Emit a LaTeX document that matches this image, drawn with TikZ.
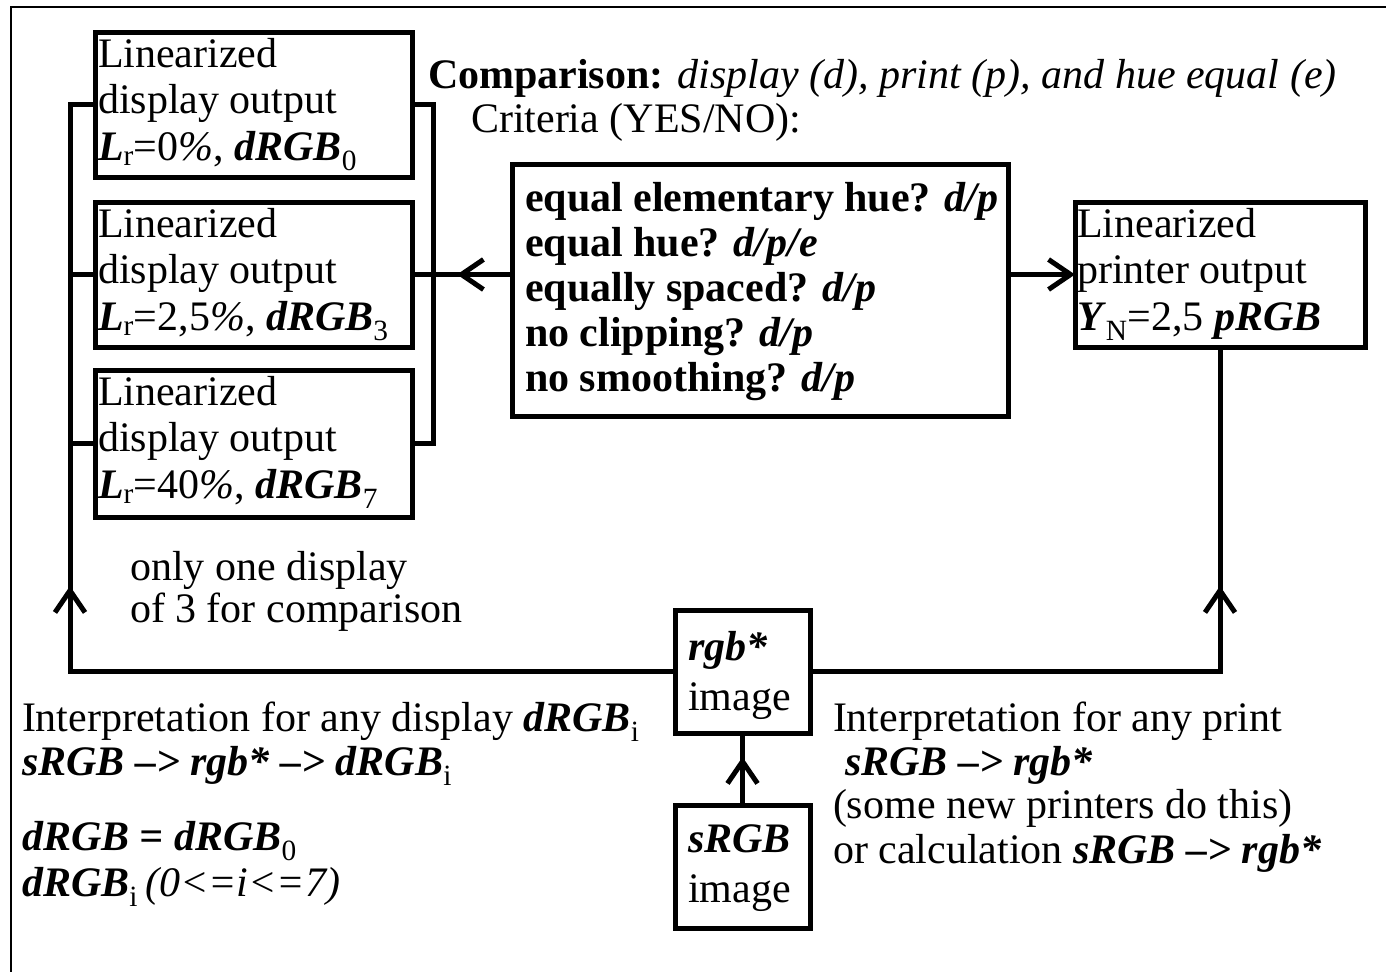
\documentclass[tikz,border=0pt]{standalone}
\usepackage{fontspec}
\setmainfont{Liberation Serif}
\usetikzlibrary{arrows.meta}
\newcommand\bfit[1]{\textbf{\textit{#1}}}
\newcommand\sbs[1]{\textsubscript{#1}}
\begin{document}
\begin{tikzpicture}[x=1pt,y=-1pt,
  box/.style={draw, line width=5pt, inner sep=0pt, outer sep=0pt, anchor=north west},
  txt/.style={inner sep=0pt, outer sep=0pt, anchor=base west, font=\fontsize{42}{46}\selectfont},
  wire/.style={line width=5pt},
  arr/.style={line width=5pt, -{Straight Barb[length=22pt,width=30pt]}},
  frame/.style={line width=2pt}]
\useasboundingbox (0,0) rectangle (1386,972);
% outer frame (only top and left visible)
\coordinate (F1) at (1386,7);
\coordinate (F2) at (11,7);
\coordinate (F3) at (11,972);
\draw[frame] (F1) -- (F2) -- (F3);

% display boxes
\node[box, minimum width=317pt, minimum height=145pt] (b1) at (95,32) {};
\node[box, minimum width=317pt, minimum height=145pt] (b2) at (95,202) {};
\node[box, minimum width=317pt, minimum height=147pt] (b3) at (95,370) {};
% criteria box
\node[box, minimum width=496pt, minimum height=252pt] (crit) at (512,164) {};
% printer box
\node[box, minimum width=290pt, minimum height=145pt] (pr) at (1075,202) {};
% rgb* and sRGB boxes
\node[box, minimum width=135pt, minimum height=123pt] (rgb) at (675,610) {};
\node[box, minimum width=135pt, minimum height=123pt] (srgb) at (675,805) {};

% texts in display boxes
\node[txt] (b1a) at (98,67) {Linearized};
\node[txt] (b1b) at (98,113) {display output};
\node[txt] (b1c) at (98,160) {\bfit{L}\sbs{r}=0\textit{\%}, \bfit{dRGB}\sbs{0}};
\node[txt] (b2a) at (98,237) {Linearized};
\node[txt] (b2b) at (98,283) {display output};
\node[txt] (b2c) at (98,330) {\bfit{L}\sbs{r}=2,5\textit{\%}, \bfit{dRGB}\sbs{3}};
\node[txt] (b3a) at (98,405) {Linearized};
\node[txt] (b3b) at (98,451) {display output};
\node[txt] (b3c) at (98,498) {\bfit{L}\sbs{r}=40\textit{\%}, \bfit{dRGB}\sbs{7}};

% comparison heading
\node[txt] (cmp) at (428,88) {\textbf{Comparison:} \textit{display (d), print (p), and hue equal (e)}};
\node[txt] (cri) at (471,132) {Criteria (YES/NO):};

% criteria lines
\node[txt] (c1) at (525,211) {\textbf{equal elementary hue?} \bfit{d/p}};
\node[txt] (c2) at (525,256) {\textbf{equal hue?} \bfit{d/p/e}};
\node[txt] (c3) at (525,301) {\textbf{equally spaced?} \bfit{d/p}};
\node[txt] (c4) at (525,346) {\textbf{no clipping?} \bfit{d/p}};
\node[txt] (c5) at (525,391) {\textbf{no smoothing?} \bfit{d/p}};

% printer box text
\node[txt] (p1) at (1077,237) {Linearized};
\node[txt] (p2) at (1077,283) {printer output};
\node[txt] (p3) at (1077,330) {\bfit{Y}\sbs{N}=2,5 \bfit{pRGB}};

% rgb / sRGB box text
\node[txt] (r1) at (688,660) {\bfit{rgb*}};
\node[txt] (r2) at (688,710) {image};
\node[txt] (s1) at (688,852) {\bfit{sRGB}};
\node[txt] (s2) at (688,902) {image};

% side notes
\node[txt] (n1) at (130,580) {only one display};
\node[txt] (n2) at (130,622) {of 3 for comparison};

\node[txt] (l1) at (22,731) {Interpretation for any display \bfit{dRGB}\sbs{i}};
\node[txt] (l2) at (22,775) {\bfit{sRGB –> rgb* –> dRGB}\sbs{i}};
\node[txt] (l3) at (22,850) {\bfit{dRGB = dRGB}\sbs{0}};
\node[txt] (l4) at (22,896) {\bfit{dRGB}\sbs{i}\,\textit{(0<=i<=7)}};

\node[txt] (q1) at (833,731) {Interpretation for any print};
\node[txt] (q2) at (845,775) {\bfit{sRGB –> rgb*}};
\node[txt] (q3) at (833,818) {(some new printers do this)};
\node[txt] (q4) at (833,863) {or calculation \bfit{sRGB –> rgb*}};

% connectors
\coordinate (LX) at (70,0);
\coordinate (RX) at (433,0);
\coordinate (LB) at (rgb.west -| LX);
\coordinate (LA) at (70,586);
\coordinate (RA) at (rgb.east -| pr.south);
\coordinate (RT) at (1220,586);
\coordinate (MA) at (457,0);
\coordinate (SA) at (742.5,757);

% left bracket and bottom line
\draw[wire] (b1.west) -| (LB) -- (rgb.west);
\draw[wire] (b2.west) -- (b2.west -| LX);
\draw[wire] (b3.west) -- (b3.west -| LX);
\draw[arr] (LB) -- (LA);
% right bracket
\draw[wire] (b1.east) -| (b3.east -| RX) -- (b3.east);
\draw[wire] (b2.east) -- (b2.east -| crit.west);
\draw[arr] (b2.east -| crit.west) -- (b2.east -| MA);
% criteria to printer
\draw[arr] (pr.west -| crit.east) -- (pr.west);
% rgb to printer
\draw[wire] (rgb.east) -| (pr.south);
\draw[arr] (RA) -- (RT);
% sRGB to rgb
\draw[wire] (srgb.north) -- (rgb.south);
\draw[arr] (srgb.north) -- (SA);
\end{tikzpicture}
\end{document}
